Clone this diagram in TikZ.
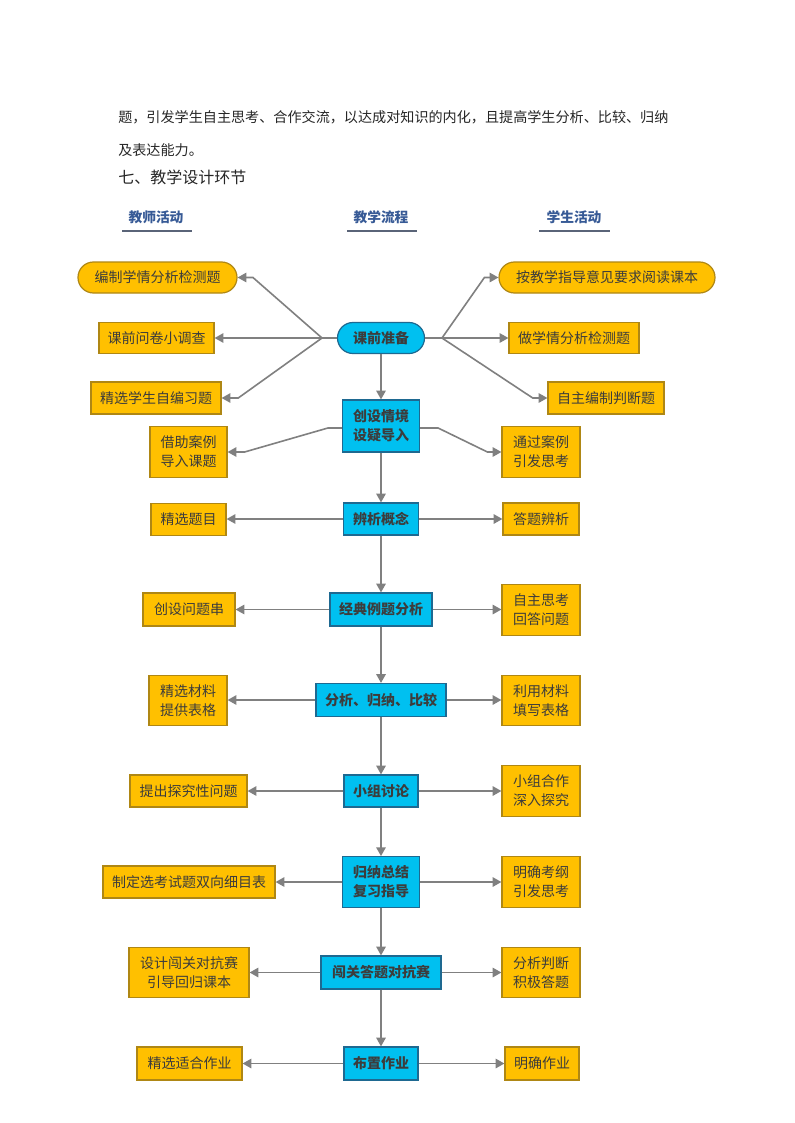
\documentclass[tikz,border=0pt]{standalone}
\usepackage{fontspec}
\setmainfont{Noto Sans CJK SC}
\usetikzlibrary{arrows.meta}
\definecolor{ygold}{RGB}{255,192,0}
\definecolor{yedge}{RGB}{175,135,20}
\definecolor{cyanf}{RGB}{0,192,240}
\definecolor{cedge}{RGB}{30,105,145}
\definecolor{arrg}{RGB}{128,128,128}
\definecolor{txt}{RGB}{60,60,60}
\definecolor{hblue}{RGB}{55,90,150}
\definecolor{uline}{RGB}{90,100,120}
\begin{document}
\begin{tikzpicture}[x=0.75pt,y=-0.75pt,
  nfont/.style={font=\fontsize{10.5pt}{14.25pt}\selectfont},
  ybox/.style={draw=yedge, fill=ygold, line width=0.9pt, text=txt, align=center, inner sep=0pt, minimum height=24pt, nfont},
  ypill/.style={ybox, minimum height=23.25pt, rounded corners=11.6pt},
  cbox/.style={draw=cedge, fill=cyanf, line width=0.9pt, text=txt, align=center, inner sep=0pt, minimum height=24pt, font=\fontsize{10.5pt}{14.25pt}\selectfont\bfseries},
  cpill/.style={cbox, minimum height=23.25pt, rounded corners=11.6pt},
  tall/.style={minimum height=38pt},
  arr/.style={draw=arrg, line width=1.2pt, -{Triangle[length=6.5pt,width=7pt]}},
  ln/.style={draw=arrg, line width=1.2pt},
  head/.style={font=\fontsize{10.3pt}{12pt}\selectfont\bfseries, text=hblue, inner sep=0pt},
  body/.style={anchor=west, inner sep=0pt, text=black!85}
]
\fill[white] (0,0) rectangle (794,1123);
\useasboundingbox (0,0) rectangle (794,1123);

% body text
\node[body, font=\fontsize{10.58pt}{13pt}\selectfont] (p1) at (118,117) {题，引发学生自主思考、合作交流，以达成对知识的内化，且提高学生分析、比较、归纳};
\node[body, font=\fontsize{10.58pt}{13pt}\selectfont] (p2) at (118,150) {及表达能力。};
\node[body, font=\fontsize{12pt}{14pt}\selectfont] (p3) at (118,177) {七、教学设计环节};

% headers
\node[head] (h1) at (156,217) {教师活动};
\node[head] (h2) at (381,217) {教学流程};
\node[head] (h3) at (574,217) {学生活动};
\draw[uline, line width=1pt] (122,231) -- (192,231);
\draw[uline, line width=1pt] (347,231) -- (417,231);
\draw[uline, line width=1pt] (539,231) -- (610,231);

% center column
\node[cpill, minimum width=65.25pt] (c1) at (381,338) {课前准备};
\node[cbox, minimum width=57.75pt, minimum height=39pt] (c2) at (381,426) {创设情境\\设疑导入};
\node[cbox, minimum width=56.25pt] (c3) at (381,519) {辨析概念};
\node[cbox, minimum width=76.5pt, minimum height=24.75pt] (c4) at (381,609.5) {经典例题分析};
\node[cbox, minimum width=97.5pt, minimum height=24.75pt] (c5) at (381,700) {分析、归纳、比较};
\node[cbox, minimum width=55.5pt] (c6) at (381,791) {小组讨论};
\node[cbox, minimum width=57.75pt, tall] (c7) at (381,882) {归纳总结\\复习指导};
\node[cbox, minimum width=90pt, minimum height=24.75pt] (c8) at (381,972.5) {闯关答题对抗赛};
\node[cbox, minimum width=55.5pt, minimum height=24.75pt] (c9) at (381,1063.5) {布置作业};

% left column
\node[ypill, minimum width=119.25pt] (l1) at (157.5,277.5) {编制学情分析检测题};
\node[ybox, minimum width=86.25pt, minimum height=23.25pt] (l2) at (156.5,338) {课前问卷小调查};
\node[ybox, minimum width=97.5pt] (l3) at (156,398) {精选学生自编习题};
\node[ybox, minimum width=57.75pt, tall] (l4) at (188.5,452) {借助案例\\导入课题};
\node[ybox, minimum width=56.25pt] (l5) at (188.5,519.5) {精选题目};
\node[ybox, minimum width=69pt, minimum height=24.75pt] (l6) at (189,609.5) {创设问题串};
\node[ybox, minimum width=58.5pt, tall] (l7) at (188,700.5) {精选材料\\提供表格};
\node[ybox, minimum width=87.75pt] (l8) at (188.5,791) {提出探究性问题};
\node[ybox, minimum width=129pt] (l9) at (189,882) {制定选考试题双向细目表};
\node[ybox, minimum width=90pt, tall] (l10) at (189,972.5) {设计闯关对抗赛\\引导回归课本};
\node[ybox, minimum width=78.75pt, minimum height=24.75pt] (l11) at (189.5,1063.5) {精选适合作业};

% right column
\node[ypill, minimum width=162pt] (r1) at (607,277.5) {按教学指导意见要求阅读课本};
\node[ybox, minimum width=97.5pt, minimum height=23.25pt] (r2) at (574,338) {做学情分析检测题};
\node[ybox, minimum width=87pt] (r3) at (606,398) {自主编制判断题};
\node[ybox, minimum width=58.5pt, tall] (r4) at (541,452) {通过案例\\引发思考};
\node[ybox, minimum width=57pt] (r5) at (541,519) {答题辨析};
\node[ybox, minimum width=58.5pt, tall] (r6) at (541,610) {自主思考\\回答问题};
\node[ybox, minimum width=58.5pt, tall] (r7) at (541,700.5) {利用材料\\填写表格};
\node[ybox, minimum width=58.5pt, tall] (r8) at (541,791) {小组合作\\深入探究};
\node[ybox, minimum width=58.5pt, tall] (r9) at (541,882) {明确考纲\\引发思考};
\node[ybox, minimum width=58.5pt, tall] (r10) at (541,972.5) {分析判断\\积极答题};
\node[ybox, minimum width=55.5pt, minimum height=24.75pt] (r11) at (542,1063.5) {明确作业};

% branch points
\coordinate (bl) at (322,338);
\coordinate (br) at (442,338);

% top fan
\draw[ln] (c1.west) -- (bl);
\draw[arr] (bl) -- ([xshift=11.5pt]l1.east) -- (l1.east);
\draw[arr] (bl) -- (bl -| l2.east);
\draw[arr] (bl) -- ([xshift=12.5pt]l3.east) -- (l3.east);
\draw[ln] (c1.east) -- (br);
\draw[arr] (br) -- ([xshift=-10.5pt]r1.west) -- (r1.west);
\draw[arr] (br) -- (br -| r2.west);
\draw[arr] (br) -- ([xshift=-11pt]r3.west) -- (r3.west);

% 创设情境 branches
\draw[arr] ([yshift=-1.5pt]c2.west) -- ++(-10.5pt,0) -- ([xshift=12.75pt]l4.east) -- (l4.east);
\draw[arr] ([yshift=-1.5pt]c2.east) -- ++(13.5pt,0) -- ([xshift=-10.5pt]r4.west) -- (r4.west);

% horizontal arrows
\foreach \c/\l/\r in {c3/l5/r5, c4/l6/r6, c5/l7/r7, c6/l8/r8, c7/l9/r9, c8/l10/r10, c9/l11/r11} {
  \draw[arr] (\c.west) -- (\c.west -| \l.east);
  \draw[arr] (\c.east) -- (\c.east -| \r.west);
}

% vertical flow
\foreach \a/\b in {c1/c2, c2/c3, c3/c4, c4/c5, c5/c6, c6/c7, c7/c8, c8/c9} {
  \draw[arr] (\a.south) -- (\b.north);
}
\end{tikzpicture}
\end{document}
